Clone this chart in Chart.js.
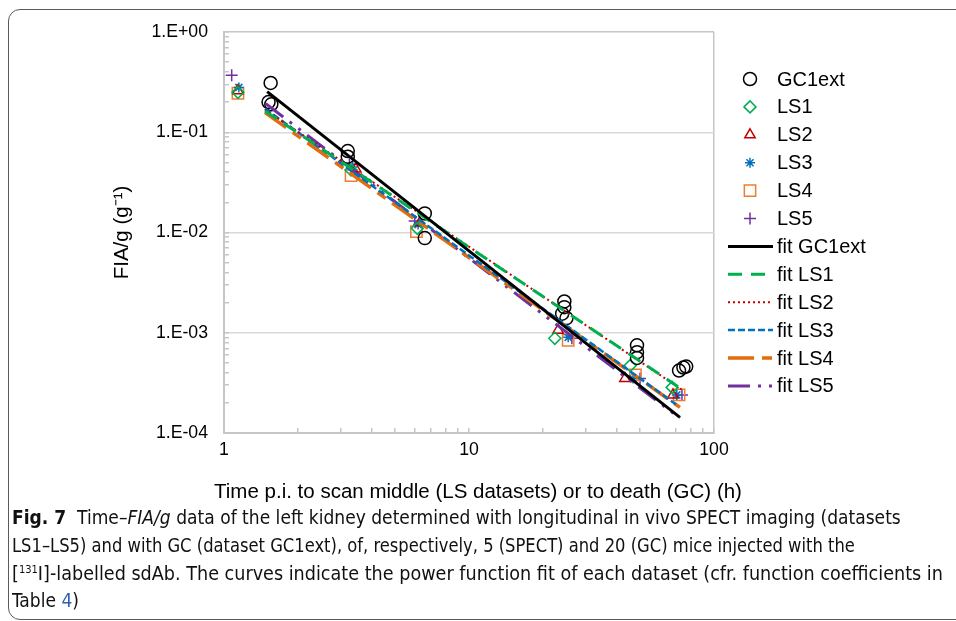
<!DOCTYPE html>
<html>
<head>
<meta charset="utf-8">
<script src="https://cdn.jsdelivr.net/npm/chart.js@4.4.1/dist/chart.umd.min.js"></script>
<style>
  html, body { margin: 0; padding: 0; background: #fff; }
  body { width: 956px; height: 621px; position: relative; overflow: hidden; font-family: "Liberation Sans", Arial, sans-serif; }
  #frame { position: absolute; left: 8px; top: 9px; width: 1000px; height: 611px; border: 1.5px solid #5a5a5a; border-radius: 12px; box-sizing: border-box; }
  #chart { position: absolute; left: 0; top: 0; }
  #caption { position: absolute; left: 12px; top: 504px; font-family: "Liberation Sans Narrow", "DejaVu Sans Condensed", "Liberation Sans", sans-serif; font-size: 19.5px; line-height: 27.8px; color: #111; white-space: nowrap; }
  #caption div { width: max-content; transform-origin: 0 50%; }
  #caption sup { font-size: 11px; line-height: 0; }
  #caption .lnk { color: #2f5fb3; }
</style>
</head>
<body>
<div id="frame"></div>
<canvas id="chart" width="956" height="510"></canvas>
<div id="caption">
  <div><b>Fig. 7</b>&nbsp; Time–<i>FIA/g</i> data of the left kidney determined with longitudinal in vivo SPECT imaging (datasets</div>
  <div>LS1–LS5) and with GC (dataset GC1ext), of, respectively, 5 (SPECT) and 20 (GC) mice injected with the</div>
  <div>[<sup>131</sup>I]-labelled sdAb. The curves indicate the power function fit of each dataset (cfr. function coefficients in</div>
  <div>Table <span class="lnk">4</span>)</div>
</div>
<script>
// donnees (temps en h, FIA/g en g-1)
const gc1extTime = [1.55, 1.52, 1.56, 3.2, 3.2, 6.6, 6.6, 24.5, 24.5, 24.0, 25.0, 48.5, 48.5, 48.5, 72, 75, 77];
const gc1extFIA = [0.31, 0.20, 0.19, 0.065, 0.057, 0.0155, 0.0088, 0.00205, 0.0018, 0.00155, 0.0014, 0.00075, 0.00064, 0.00056, 0.00042, 0.00045, 0.00046];

const ls1Time = [1.14, 3.3, 6.15, 22.4, 45.5, 67.5];
const ls1FIA = [0.25, 0.042, 0.011, 0.00088, 0.00047, 0.000285];
const ls2Time = [1.14, 3.45, 6.3, 23.1, 43.3, 68];
const ls2FIA = [0.26, 0.043, 0.0125, 0.00106, 0.00035, 0.00024];
const ls3Time = [1.15, 3.35, 6.2, 25.4, 46.7, 70.5];
const ls3FIA = [0.28, 0.045, 0.012, 0.0009, 0.00035, 0.00024];
const ls4Time = [1.14, 3.3, 6.1, 25.4, 47.8, 72];
const ls4FIA = [0.245, 0.037, 0.0102, 0.00084, 0.00038, 0.00024];
const ls5Time = [1.075, 3.25, 6.0, 26.3, 49.9, 74];
const ls5FIA = [0.37, 0.048, 0.013, 0.00088, 0.00035, 0.00024];

// extremites des droites d'ajustement (fonction puissance)
const fitGC1extTime = [1.5, 72.6];
const fitGC1extFIA = [0.254, 0.000143];
const fitLS1Time = [1.47, 71.3];
const fitLS1FIA = [0.163, 0.00029];
const fitLS2Time = [1.47, 74];
const fitLS2FIA = [0.168, 0.00027];
const fitLS3Time = [1.47, 70];
const fitLS3FIA = [0.172, 0.000193];
const fitLS4Time = [1.47, 72.6];
const fitLS4FIA = [0.157, 0.00018];
const fitLS5Time = [1.48, 72.6];
const fitLS5FIA = [0.193, 0.00014];

const xTickValues = [1, 10, 100];
const xTickLabels = ['1', '10', '100'];
const yTickValues = [1e-4, 1e-3, 1e-2, 1e-1, 1];
const yTickLabels = ['1.E-04', '1.E-03', '1.E-02', '1.E-01', '1.E+00'];

const FONT = '"Liberation Sans", Arial, sans-serif';
const AXIS_GRAY = '#c6c6c6';
const GRID_GRAY = '#d9d9d9';

function pts(xs, ys) {
    return xs.map((x, i) => ({ x: x, y: ys[i] }));
}

function findTick(values, v) {
    return values.findIndex(t => Math.abs(t - v) / t < 1e-6);
}

// on enleve les graduations 1.5, 15 ... ajoutees par Chart.js
function keepIntegerTicks(scale) {
    scale.ticks = scale.ticks.filter(t => {
        const m = t.value / Math.pow(10, Math.floor(Math.log10(t.value) + 1e-9));
        return Math.abs(m - Math.round(m)) < 1e-6;
    });
}

function markerSet(label, xs, ys, style, color, radius) {
    return {
        label: label,
        data: pts(xs, ys),
        showLine: false,
        pointStyle: style,
        pointRadius: radius,
        pointBorderColor: color,
        pointBackgroundColor: 'rgba(0,0,0,0)',
        pointBorderWidth: 1.5,
        borderColor: color,
        borderWidth: 1.5,
        order: 1,
        yAxisID: 'y'
    };
}

function fitSet(label, xs, ys, color, width, dash) {
    return {
        label: label,
        data: pts(xs, ys),
        showLine: true,
        pointRadius: 0,
        borderColor: color,
        borderWidth: width,
        borderDash: dash,
        fill: false,
        order: 0,
        yAxisID: 'y'
    };
}

const datasets = [
    markerSet('GC1ext', gc1extTime, gc1extFIA, 'circle', '#000000', 6.5),
    markerSet('LS1', ls1Time, ls1FIA, 'rectRot', '#00b050', 6),
    markerSet('LS2', ls2Time, ls2FIA, 'triangle', '#c00000', 6),
    markerSet('LS3', ls3Time, ls3FIA, 'star', '#0070c0', 5),
    markerSet('LS4', ls4Time, ls4FIA, 'rect', '#ed7d31', 8),
    markerSet('LS5', ls5Time, ls5FIA, 'cross', '#7030a0', 6),
    fitSet('fit GC1ext', fitGC1extTime, fitGC1extFIA, '#000000', 3, []),
    fitSet('fit LS1', fitLS1Time, fitLS1FIA, '#00b050', 3, [14, 9]),
    fitSet('fit LS2', fitLS2Time, fitLS2FIA, '#c00000', 2, [2, 3]),
    fitSet('fit LS3', fitLS3Time, fitLS3FIA, '#0070c0', 2.5, [7, 3]),
    fitSet('fit LS4', fitLS4Time, fitLS4FIA, '#e46c0a', 3.5, [26, 8, 10, 8]),
    fitSet('fit LS5', fitLS5Time, fitLS5FIA, '#7030a0', 3, [22, 8, 3, 8, 3, 8])
];

// legende a droite, dessinee comme dans Excel
const sideLegend = {
    id: 'sideLegend',
    afterDraw(chart) {
        const ctx = chart.ctx;
        ctx.save();
        ctx.font = '20px ' + FONT;
        ctx.textBaseline = 'middle';
        chart.data.datasets.forEach((ds, i) => {
            const y = 79 + i * 27.9;
            ctx.strokeStyle = ds.borderColor;
            ctx.lineWidth = ds.borderWidth;
            if (ds.showLine) {
                ctx.setLineDash(ds.borderDash || []);
                ctx.beginPath();
                ctx.moveTo(728, y);
                ctx.lineTo(773, y);
                ctx.stroke();
                ctx.setLineDash([]);
            } else {
                ctx.fillStyle = 'rgba(0,0,0,0)';
                Chart.helpers.drawPoint(ctx, {
                    pointStyle: ds.pointStyle, radius: ds.pointRadius, rotation: 0, borderWidth: ds.pointBorderWidth
                }, 750, y);
            }
            ctx.fillStyle = '#000';
            ctx.fillText(ds.label, 777, y + 1);
        });
        ctx.restore();
    }
};

Chart.defaults.font.family = FONT;

new Chart(document.getElementById('chart').getContext('2d'), {
    type: 'scatter',
    data: { datasets: datasets },
    plugins: [sideLegend],
    options: {
        responsive: false,
        animation: false,
        layout: { padding: { left: 0, right: 0, top: 32, bottom: 0 } },
        plugins: {
            legend: { display: false },
            tooltip: { enabled: false },
            title: {
                display: true,
                position: 'bottom',
                text: 'Time p.i. to scan middle (LS datasets) or to death (GC) (h)',
                color: '#000',
                font: { size: 20.5, weight: 'normal' },
                padding: { top: 0, bottom: 5.7 }
            }
        },
        scales: {
            x: {
                type: 'logarithmic',
                position: 'bottom',
                min: 1,
                max: 100,
                afterBuildTicks: keepIntegerTicks,
                afterFit(scale) { scale.height = 46.7; },
                grid: {
                    color: c => (c.tick && c.tick.value === 100) ? AXIS_GRAY : 'rgba(0,0,0,0)',
                    tickColor: AXIS_GRAY,
                    tickLength: -5,
                    lineWidth: 1.5
                },
                border: { color: AXIS_GRAY, width: 2 },
                ticks: {
                    autoSkip: false,
                    maxRotation: 0,
                    padding: 11.5,
                    color: '#000',
                    font: { size: 17.7 },
                    callback: v => {
                        const i = findTick(xTickValues, v);
                        return i >= 0 ? xTickLabels[i] : '';
                    }
                }
            },
            y: {
                type: 'logarithmic',
                position: 'left',
                min: 1e-4,
                max: 1,
                afterBuildTicks: keepIntegerTicks,
                afterFit(scale) { scale.width = 224; },
                title: {
                    display: true,
                    text: 'FIA/g (g⁻¹)',
                    color: '#000',
                    font: { size: 20.5 },
                    padding: { top: 109.7, bottom: 0 }
                },
                grid: {
                    color: c => {
                        if (!c.tick) return 'rgba(0,0,0,0)';
                        if (c.tick.value === 1) return AXIS_GRAY;
                        return findTick(yTickValues, c.tick.value) >= 0 ? GRID_GRAY : 'rgba(0,0,0,0)';
                    },
                    tickColor: AXIS_GRAY,
                    tickLength: -5,
                    lineWidth: 1.5
                },
                border: { color: AXIS_GRAY, width: 2 },
                ticks: {
                    autoSkip: false,
                    padding: 21,
                    color: '#000',
                    font: { size: 17.7 },
                    callback: v => {
                        const i = findTick(yTickValues, v);
                        return i >= 0 ? yTickLabels[i] : '';
                    }
                }
            },
            pad: {
                type: 'linear',
                position: 'right',
                display: true,
                afterFit(scale) { scale.width = 242; },
                grid: { display: false, drawTicks: false },
                border: { display: false },
                ticks: { display: false }
            }
        }
    }
});

// la legende de la figure est dans une police condensee : on resserre chaque ligne
const captionWidths = [889, 843, 931, 0];
function fitCaption() {
    const lines = document.querySelectorAll('#caption div');
    lines.forEach(d => { d.style.transform = ''; });
    const k0 = captionWidths[0] / lines[0].offsetWidth;
    lines.forEach((d, i) => {
        const k = captionWidths[i] ? captionWidths[i] / d.offsetWidth : k0;
        d.style.transform = 'scaleX(' + k + ')';
    });
}
fitCaption();
if (document.fonts) document.fonts.ready.then(fitCaption);
</script>
</body>
</html>
